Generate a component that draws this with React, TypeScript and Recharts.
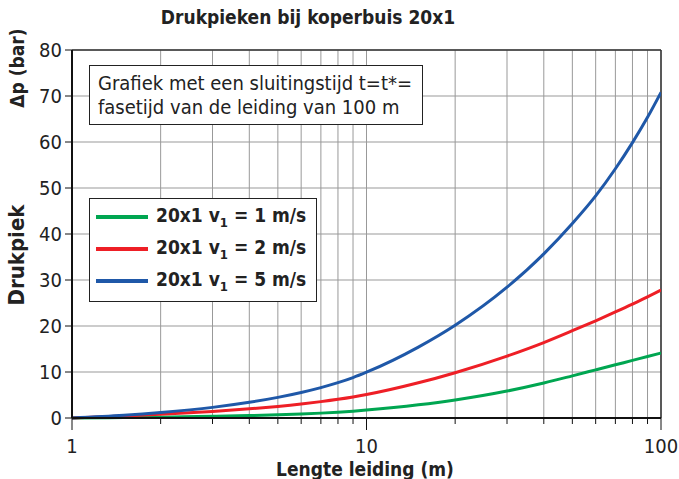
import { CartesianGrid, Legend, Line, LineChart, ReferenceLine, XAxis, YAxis } from "recharts"

// Lengte leiding (m)
const lengths = [1, 1.5, 2, 3, 4, 5, 6, 7, 8, 9, 10, 15, 20, 30, 40, 50, 60, 70, 80, 90, 100]
// Drukpiek (bar) per stroomsnelheid
const v1Values = [0, 0.09, 0.19, 0.37, 0.53, 0.7, 0.87, 1.06, 1.26, 1.48, 1.72, 2.86, 3.92, 5.86, 7.61, 9.16, 10.46, 11.56, 12.52, 13.36, 14.12]
const v2Values = [0, 0.42, 0.8, 1.43, 1.99, 2.52, 3.04, 3.56, 4.07, 4.58, 5.1, 7.65, 9.85, 13.46, 16.4, 18.97, 21.14, 23.05, 24.76, 26.34, 27.84]
const v5Values = [0, 0.6, 1.2, 2.31, 3.41, 4.48, 5.55, 6.61, 7.68, 8.78, 9.95, 15.41, 20.16, 28.43, 35.68, 42.28, 48.28, 54.18, 59.86, 65.36, 70.79]

const xTicks = [1, 2, 3, 4, 5, 6, 7, 8, 9, 10, 20, 30, 40, 50, 60, 70, 80, 90, 100]
const xLabels = [1, 10, 100]
const yTicks = [0, 10, 20, 30, 40, 50, 60, 70, 80]

const series = [
  { key: "v1", speed: "1", color: "#00a651" },
  { key: "v2", speed: "2", color: "#ee1f26" },
  { key: "v5", speed: "5", color: "#1f58a8" },
]

const data = lengths.map((L, i) => ({ L, v1: v1Values[i], v2: v2Values[i], v5: v5Values[i] }))

const font = "'DejaVu Sans Condensed', 'DejaVu Sans', sans-serif"
const ink = "#222"

// x-as: lange streepjes bij de decades, korte bij de tussenwaarden
const XTick = ({ x, y, payload }: any) => {
  const major = xLabels.includes(payload.value)
  return (
    <g>
      <line x1={x} y1={y} x2={x} y2={y + (major ? 12 : 6)} stroke="#111" strokeWidth={1} />
      {major && (
        <text x={x} y={y + 35} textAnchor="middle" fill={ink} fontSize={20} fontFamily={font}>
          {payload.value}
        </text>
      )}
    </g>
  )
}

const LegendBox = () => (
  <div
    style={{
      border: "1.5px solid #222",
      background: "#fff",
      padding: "2px 10px 4px 6px",
      fontFamily: font,
      fontWeight: "bold",
      fontSize: 19,
      color: ink,
    }}
  >
    {series.map((s) => (
      <div key={s.key} style={{ display: "flex", alignItems: "center", height: 32 }}>
        <div style={{ width: 52, height: 4, background: s.color, marginRight: 8 }} />
        <span>
          20x1 v<sub style={{ fontSize: 13 }}>1</sub> = {s.speed} m/s
        </span>
      </div>
    ))}
  </div>
)

const rotated = (top: number, text: string, size: number) => (
  <div
    style={{
      position: "absolute",
      left: 17,
      top,
      transform: "translate(-50%, -50%) rotate(-90deg)",
      fontFamily: font,
      fontWeight: "bold",
      fontSize: size,
      lineHeight: `${size + 2}px`,
      color: ink,
      whiteSpace: "nowrap",
    }}
  >
    {text}
  </div>
)

export default function App() {
  return (
    <div style={{ position: "absolute", left: 0, top: 0, width: 679, height: 479, background: "#fff" }}>
      <div
        style={{
          position: "absolute",
          left: 0,
          width: 616,
          top: 6,
          textAlign: "center",
          fontFamily: font,
          fontWeight: "bold",
          fontSize: 19,
          color: ink,
        }}
      >
        Drukpieken bij koperbuis 20x1
      </div>
      <LineChart
        width={679}
        height={479}
        data={data}
        margin={{ top: 50, right: 18, left: 42, bottom: 21 }}
        style={{ fontFamily: font }}
      >
        <CartesianGrid stroke="#999" strokeWidth={1} />
        <XAxis
          dataKey="L"
          type="number"
          scale="log"
          domain={[1, 100]}
          ticks={xTicks}
          interval={0}
          height={40}
          tickSize={0}
          tickMargin={0}
          tickLine={false}
          tick={<XTick />}
          axisLine={{ stroke: "#111", strokeWidth: 2 }}
          allowDataOverflow
        />
        <YAxis
          type="number"
          domain={[0, 80]}
          ticks={yTicks}
          interval={0}
          width={30}
          tickSize={7}
          tickMargin={3}
          tick={{ fill: ink, fontSize: 20 }}
          axisLine={{ stroke: "#111", strokeWidth: 2 }}
          tickLine={{ stroke: "#111" }}
        />
        <ReferenceLine y={80} stroke="#333" strokeWidth={1.5} />
        <ReferenceLine x={100} stroke="#333" strokeWidth={1.5} />
        {series.map((s) => (
          <Line
            key={s.key}
            type="monotone"
            dataKey={s.key}
            stroke={s.color}
            strokeWidth={3}
            dot={false}
            isAnimationActive={false}
          />
        ))}
        <Legend
          layout="horizontal"
          verticalAlign="middle"
          align="center"
          content={<LegendBox />}
          wrapperStyle={{ left: 89, top: 198, width: "auto" }}
        />
      </LineChart>
      <div
        style={{
          position: "absolute",
          left: 89,
          top: 65,
          width: 334,
          height: 60,
          boxSizing: "border-box",
          border: "1.5px solid #222",
          background: "#fff",
          fontFamily: font,
          fontSize: 20,
          lineHeight: "24px",
          color: ink,
          padding: "5px 0 0 8px",
          whiteSpace: "nowrap",
        }}
      >
        Grafiek met een sluitingstijd t=t*=
        <br />
        fasetijd van de leiding van 100 m
      </div>
      <div
        style={{
          position: "absolute",
          left: 365,
          top: 460,
          transform: "translateX(-50%)",
          fontFamily: font,
          fontWeight: "bold",
          fontSize: 19,
          lineHeight: "19px",
          color: ink,
          whiteSpace: "nowrap",
        }}
      >
        Lengte leiding (m)
      </div>
      {rotated(68, "Δp (bar)", 19)}
      {rotated(255, "Drukpiek", 22)}
    </div>
  )
}
